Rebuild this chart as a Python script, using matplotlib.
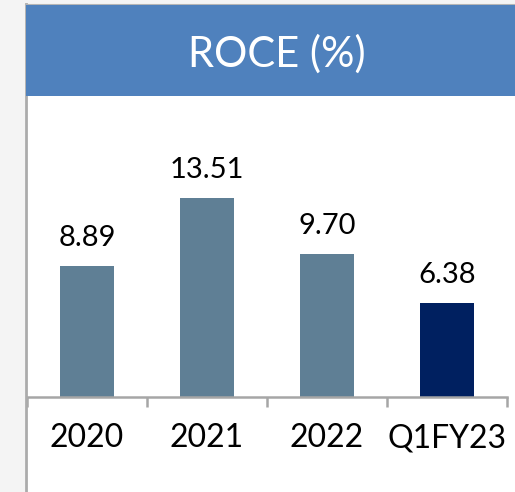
import matplotlib.pyplot as plt
from matplotlib.patches import Rectangle
from matplotlib.lines import Line2D

plt.rcParams['font.family'] = ['Lato', 'DejaVu Sans']

# ROCE by period
periods = ['2020', '2021', '2022', 'Q1FY23']
roce = [8.89, 13.51, 9.70, 6.38]
bar_colors = ['#5F7F95', '#5F7F95', '#5F7F95', '#002060']
title = 'ROCE (%)'

W, H = 515, 492
fig = plt.figure(figsize=(W / 100, H / 100), dpi=100)
fig.patch.set_facecolor('white')

# panel frame: grey strip on the left, thin border, blue header
fig.patches.append(Rectangle((0, 0), 25 / W, 1, transform=fig.transFigure,
                             facecolor='#F4F4F4', edgecolor='none', zorder=0))
fig.patches.append(Rectangle((0, 1 - 4 / H), 1, 4 / H, transform=fig.transFigure,
                             facecolor='#F4F4F4', edgecolor='none', zorder=0))
fig.lines.append(Line2D([25.5 / W, 25.5 / W], [0, 1 - 4 / H], transform=fig.transFigure,
                        color='#ABABAB', lw=2, zorder=1))
fig.lines.append(Line2D([25.5 / W, 1], [1 - 4.5 / H, 1 - 4.5 / H], transform=fig.transFigure,
                        color='#B5B5B5', lw=1.5, zorder=1))
fig.patches.append(Rectangle((26 / W, 1 - 96 / H), 1 - 26 / W, 91 / H, transform=fig.transFigure,
                             facecolor='#4F81BD', edgecolor='none', zorder=1))
fig.text(277 / W, 1 - 54 / H, title, color='white', fontsize=30,
         ha='center', va='center')

# bar chart area
base = 397
top = 100
ax = fig.add_axes([27 / W, (H - base) / H, 480 / W, (base - top) / H])
ax.set_facecolor('none')
x = list(range(len(periods)))
ax.bar(x, roce, width=0.45, color=bar_colors)
ax.set_xlim(-0.5, len(periods) - 0.5)
ax.set_ylim(0, (base - top) / 14.7)

for xi, v in zip(x, roce):
    ax.annotate(f'{v:.2f}', (xi, v), xytext=(0, 11), textcoords='offset points',
                ha='center', va='bottom', fontsize=21, color='black')

for s in ['top', 'right', 'left']:
    ax.spines[s].set_visible(False)
ax.spines['bottom'].set_color('#A6A6A6')
ax.spines['bottom'].set_linewidth(1.8)
ax.set_yticks([])
ax.set_xticks([i - 0.5 for i in range(len(periods) + 1)], minor=False)
ax.set_xticklabels([])
ax.set_xticks(x, minor=True)
ax.set_xticklabels(periods, minor=True)
ax.tick_params(axis='x', which='major', length=7, width=1.8, color='#A6A6A6')
ax.tick_params(axis='x', which='minor', length=0, pad=19, labelsize=23)

fig.savefig('out.png', dpi=100)
